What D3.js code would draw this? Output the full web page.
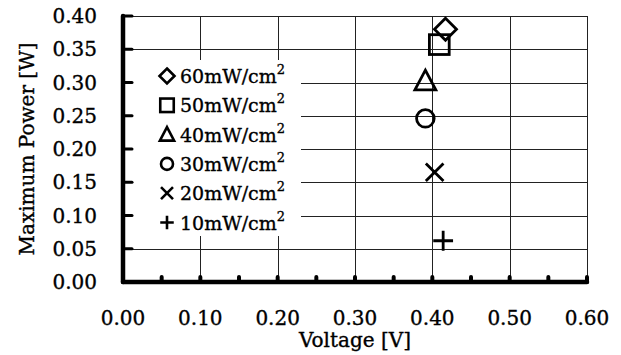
<!DOCTYPE html>
<html><head><meta charset="utf-8">
<script src="https://cdn.jsdelivr.net/npm/d3@7"></script>
<style>body{margin:0;background:#fff}svg{display:block}text{font-family:"DejaVu Serif",serif;fill:#000;stroke:#000;stroke-width:0.35px}</style>
</head><body><svg id="c" width="621" height="355"></svg>
<script>
const series = ["60mW/cm", "50mW/cm", "40mW/cm", "30mW/cm", "20mW/cm", "10mW/cm"];
const symbols = ["diamond", "square", "triangle", "circle", "cross", "plus"];
const voltage = [0.417, 0.409, 0.391, 0.391, 0.403, 0.414];
const power = [0.380, 0.357, 0.302, 0.246, 0.165, 0.062];
const xTicks = [0.00, 0.10, 0.20, 0.30, 0.40, 0.50, 0.60];
const yTicks = [0.00, 0.05, 0.10, 0.15, 0.20, 0.25, 0.30, 0.35, 0.40];
const xMinor = [0.05, 0.15, 0.25, 0.35, 0.45, 0.55];

const svg = d3.select("#c");
const L = 123, R = 587, T = 16, B = 282;
const x = d3.scaleLinear().domain([0, 0.6]).range([L, R]);
const y = d3.scaleLinear().domain([0, 0.4]).range([B, T]);

// legend box area (occludes gridlines)
const lg = {x0: L, x1: 301, y0: 60, y1: 236};

const grid = svg.append("g").attr("stroke", "#222").attr("stroke-width", 1).attr("shape-rendering", "crispEdges");
xTicks.slice(1).forEach(v => {
  const px = Math.round(x(v)) + 0.5;
  if (px < lg.x1) {
    grid.append("line").attr("x1", px).attr("x2", px).attr("y1", T).attr("y2", lg.y0);
    grid.append("line").attr("x1", px).attr("x2", px).attr("y1", lg.y1).attr("y2", B);
  } else grid.append("line").attr("x1", px).attr("x2", px).attr("y1", T).attr("y2", B);
});
yTicks.slice(1).forEach(v => {
  const py = Math.round(y(v)) + 0.5;
  if (py > lg.y0 && py < lg.y1)
    grid.append("line").attr("x1", lg.x1).attr("x2", R).attr("y1", py).attr("y2", py);
  else grid.append("line").attr("x1", L).attr("x2", R).attr("y1", py).attr("y2", py);
});

// axes
const ax = svg.append("g").attr("stroke", "#000").attr("stroke-linecap", "round");
ax.append("line").attr("x1", L).attr("x2", L).attr("y1", T).attr("y2", B).attr("stroke-width", 4.5);
ax.append("line").attr("x1", L).attr("x2", R).attr("y1", B).attr("y2", B).attr("stroke-width", 4.5);
yTicks.forEach(v => ax.append("line").attr("x1", L).attr("x2", L + 9).attr("y1", y(v)).attr("y2", y(v)).attr("stroke-width", 3));
xTicks.slice(1).concat(xMinor).forEach(v => ax.append("line").attr("x1", x(v)).attr("x2", x(v)).attr("y1", B).attr("y2", B - 5).attr("stroke-width", 4));

// tick labels
svg.append("g").selectAll("text").data(yTicks).join("text")
  .attr("x", 97).attr("y", d => y(d) + 7).attr("text-anchor", "end").attr("font-size", 20)
  .text(d => d.toFixed(2));
svg.append("g").selectAll("text").data(xTicks).join("text")
  .attr("x", d => x(d)).attr("y", 325).attr("text-anchor", "middle").attr("font-size", 20)
  .text(d => d.toFixed(2));

svg.append("text").attr("x", 355).attr("y", 347).attr("text-anchor", "middle").attr("font-size", 20).text("Voltage [V]");
svg.append("text").attr("transform", "translate(34,149) rotate(-90)").attr("text-anchor", "middle").attr("font-size", 20).text("Maximum Power [W]");

function marker(g, type, cx, cy, s, sw) {
  const h = s / 2;
  let p;
  if (type === "diamond") p = g.append("path").attr("d", `M${cx},${cy - h}L${cx + h},${cy}L${cx},${cy + h}L${cx - h},${cy}Z`);
  else if (type === "square") p = g.append("rect").attr("x", cx - h * 0.9).attr("y", cy - h * 0.9).attr("width", s * 0.9).attr("height", s * 0.9);
  else if (type === "triangle") p = g.append("path").attr("d", `M${cx},${cy - h}L${cx + h * 0.95},${cy + h * 0.8}L${cx - h * 0.95},${cy + h * 0.8}Z`);
  else if (type === "circle") p = g.append("circle").attr("cx", cx).attr("cy", cy).attr("r", h * 0.8);
  else if (type === "cross") p = g.append("path").attr("d", `M${cx - h * 0.8},${cy - h * 0.8}L${cx + h * 0.8},${cy + h * 0.8}M${cx + h * 0.8},${cy - h * 0.8}L${cx - h * 0.8},${cy + h * 0.8}`);
  else p = g.append("path").attr("d", `M${cx - h * 0.9},${cy}L${cx + h * 0.9},${cy}M${cx},${cy - h * 0.9}L${cx},${cy + h * 0.9}`);
  p.attr("fill", "none").attr("stroke", "#000").attr("stroke-width", sw);
}

const pts = svg.append("g");
series.forEach((s, i) => marker(pts, symbols[i], x(voltage[i]), y(power[i]), 22, 2.8));

// legend
const leg = svg.append("g");
series.forEach((s, i) => {
  const cy = 76 + i * 29.3;
  marker(leg, symbols[i], 167, cy, 15, 2.6);
  const t = leg.append("text").attr("x", 180).attr("y", cy + 7).attr("font-size", 19);
  t.append("tspan").text(s);
  t.append("tspan").attr("font-size", 13).attr("dy", -9).text("2");
});
</script></body></html>
